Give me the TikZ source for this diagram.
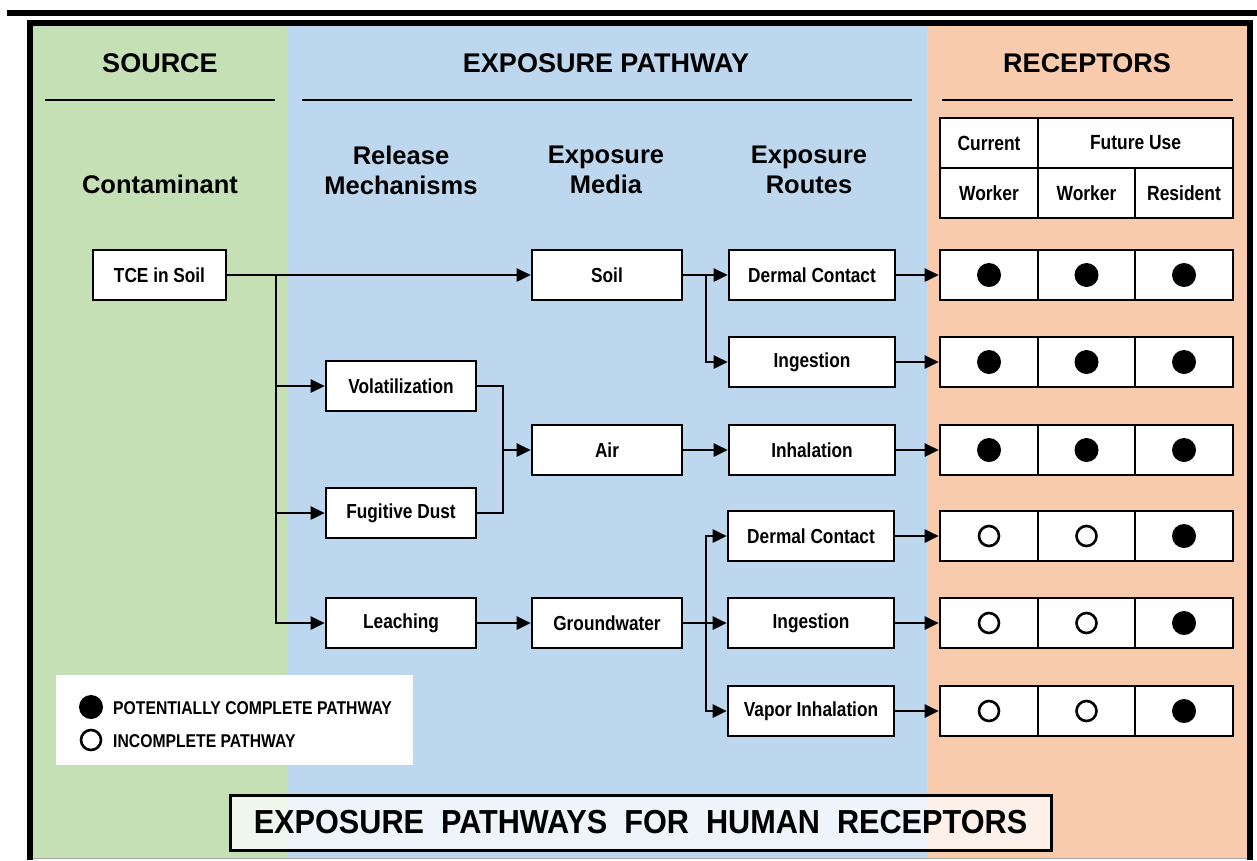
\documentclass[tikz,border=0pt]{standalone}
\usepackage{fontspec}
\setmainfont{Liberation Sans}
\newfontfamily\nar{Liberation Sans}[FakeStretch=0.85]
\newfontfamily\tnar{Liberation Sans}[FakeStretch=0.92]
\usetikzlibrary{arrows.meta}
\definecolor{cgreen}{HTML}{C5E0B4}
\definecolor{cblue}{HTML}{BDD7EE}
\definecolor{corange}{HTML}{F8CBAD}
\tikzset{
  box/.style={draw, line width=2.6pt, fill=white, inner sep=0pt, minimum height=50pt,
    font=\nar\bfseries\fontsize{20.3}{22}\selectfont},
  relbox/.style={box, minimum width=150pt},
  routebox/.style={box, minimum width=166pt},
  cell/.style={box, minimum height=50pt},
  ln/.style={line width=2.6pt},
  arr/.style={line width=2.6pt, -{Triangle[length=14pt,width=13pt]}},
  head/.style={font=\bfseries\fontsize{27}{30}\selectfont},
  subhead/.style={font=\bfseries\fontsize{25.5}{30}\selectfont, align=center},
  hcell/.style={cell, font=\nar\bfseries\fontsize{20.5}{22}\selectfont},
  full/.style={fill=black, circle, inner sep=0pt, minimum size=24pt},
  empty/.style={draw, line width=2.6pt, fill=white, circle, inner sep=0pt, minimum size=20pt},
  uline/.style={line width=2.6pt}
}
\begin{document}
\begin{tikzpicture}[x=1pt, y=-1pt]
\useasboundingbox (0,0) rectangle (1257,860);
% backgrounds
\fill[cgreen] (33,26) rectangle (287,858);
\fill[cblue] (287,26) rectangle (927,858);
\fill[corange] (927,26) rectangle (1247,858);
\draw[gray!70, line width=1pt] (33,858) -- (1247,858);
% frame
\fill[black] (7,10) rectangle (1257,16);
\draw[line width=6pt] (30,860) -- (30,23) -- (1250,23) -- (1250,860);
% headers
\node[head] (hsrc) at (160,63) {SOURCE};
\node[head] (hexp) at (606,63) {EXPOSURE PATHWAY};
\node[head] (hrec) at (1087,63) {RECEPTORS};
\draw[uline] (45,100) -- (275,100);
\draw[uline] (302,100) -- (912,100);
\draw[uline] (942,100) -- (1233,100);
\node[subhead] (hcont) at (160,184) {Contaminant};
\node[subhead] (hrel) at (401,170) {Release\\Mechanisms};
\node[subhead] (hmed) at (606,170) {Exposure\\Media};
\node[subhead] (hrou) at (809,170) {Exposure\\Routes};
% receptor table header
\node[hcell, minimum width=98pt] (cur) at (989,143) {Current};
\node[hcell, minimum width=195pt] (fut) at (1135.5,143) {Future Use};
\node[hcell, minimum width=98pt] (w1) at (989,193) {Worker};
\node[hcell, minimum width=97pt] (w2) at (1086.5,193) {Worker};
\node[hcell, minimum width=98pt] (res) at (1184,193) {Resident};
% nodes
\node[box, minimum width=133pt] (tce) at (159.5,275) {TCE in Soil};
\node[relbox] (soil) at (607,275) {Soil};
\node[routebox] (derm1) at (812,275) {Dermal Contact};
\node[routebox] (ing1) at (812,362) {Ingestion};
\node[relbox] (vol) at (401,386) {Volatilization};
\node[relbox] (air) at (607,450) {Air};
\node[routebox] (inh) at (812,450) {Inhalation};
\node[relbox] (dust) at (401,513) {Fugitive Dust};
\node[routebox] (derm2) at (811,536) {Dermal Contact};
\node[relbox] (leach) at (401,623) {Leaching};
\node[relbox] (gw) at (607,623) {Groundwater};
\node[routebox] (ing2) at (811,623) {Ingestion};
\node[routebox] (vap) at (811,711) {Vapor Inhalation};
% receptor rows
\foreach \r/\y in {1/275,2/362,3/450,4/536,5/623,6/711}{
  \node[cell, minimum width=98pt] (r\r a) at (989,\y) {};
  \node[cell, minimum width=97pt] (r\r b) at (1086.5,\y) {};
  \node[cell, minimum width=98pt] (r\r c) at (1184,\y) {};
}
\foreach \r in {1,2,3}{
  \node[full] (f\r a) at (r\r a) {};
  \node[full] (f\r b) at (r\r b) {};
  \node[full] (f\r c) at (r\r c) {};
}
\foreach \r in {4,5,6}{
  \node[empty] (e\r a) at (r\r a) {};
  \node[empty] (e\r b) at (r\r b) {};
  \node[full] (f\r c) at (r\r c) {};
}
% connectors
\coordinate (j1) at (276,275);
\coordinate (j2) at (706,275);
\coordinate (j3) at (503,450);
\coordinate (j4) at (706,623);
\draw[arr] (tce.east) -- (soil.west);
\draw[ln] (j1) -- (276,623);
\draw[arr] (j1) |- (vol.west);
\draw[arr] (j1) |- (dust.west);
\draw[arr] (j1) |- (leach.west);
\draw[arr] (soil.east) -- (derm1.west);
\draw[arr] (j2) |- (ing1.west);
\draw[ln] (vol.east) -| (j3);
\draw[ln] (dust.east) -| (j3);
\draw[arr] (j3) -- (air.west);
\draw[arr] (air.east) -- (inh.west);
\draw[arr] (leach.east) -- (gw.west);
\draw[ln] (gw.east) -- (j4);
\draw[arr] (j4) |- (derm2.west);
\draw[arr] (j4) -- (ing2.west);
\draw[arr] (j4) |- (vap.west);
\draw[arr] (derm1.east) -- (r1a.west);
\draw[arr] (ing1.east) -- (r2a.west);
\draw[arr] (inh.east) -- (r3a.west);
\draw[arr] (derm2.east) -- (r4a.west);
\draw[arr] (ing2.east) -- (r5a.west);
\draw[arr] (vap.east) -- (r6a.west);
% legend
\fill[white] (56,675) rectangle (413,765);
\node[full] (lfull) at (91,707) {};
\node[empty] (lempty) at (91,740) {};
\node[anchor=west, inner sep=0pt, font=\nar\bfseries\fontsize{18.5}{20}\selectfont] (ltxt1) at (113,708) {POTENTIALLY COMPLETE PATHWAY};
\node[anchor=west, inner sep=0pt, font=\nar\bfseries\fontsize{18.5}{20}\selectfont] (ltxt2) at (113,741) {INCOMPLETE PATHWAY};
% title
\node[draw, line width=3pt, fill=white, fill opacity=0.75, text opacity=1, minimum width=821pt, minimum height=55pt, inner sep=0pt, font=\tnar\bfseries\fontsize{33.3}{36}\selectfont] (title) at (640.5,822.5) {EXPOSURE\ \ PATHWAYS\ \ FOR\ \ HUMAN\ \ RECEPTORS};
\end{tikzpicture}
\end{document}
